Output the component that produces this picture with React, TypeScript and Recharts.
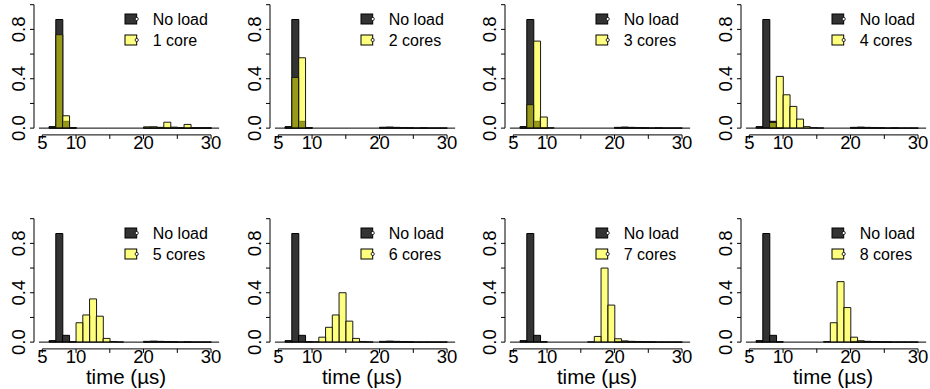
import { ComposedChart, Bar, XAxis, YAxis, ReferenceLine, Legend } from 'recharts';

const FONT = '"Liberation Sans", Arial, Helvetica, sans-serif';

// histogram bins are 1 µs wide, left edges below
const binStarts = [5, 6, 7, 8, 9, 10, 11, 12, 13, 14, 15, 16, 17, 18, 19, 20, 21, 22, 23, 24, 25, 26, 27, 28, 29, 30];

const noLoad = [0, 0.012, 0.88, 0.055, 0.003, 0, 0, 0, 0, 0, 0, 0, 0, 0, 0, 0.006, 0.008, 0.006, 0.005, 0.002, 0.001, 0.001, 0.001, 0.001, 0.001, 0];

const cores1 = [0, 0.005, 0.757, 0.1, 0.003, 0, 0, 0, 0, 0, 0, 0, 0, 0, 0, 0.01, 0.01, 0.003, 0.048, 0.008, 0.002, 0.03, 0.002, 0.001, 0.003, 0];
const cores2 = [0, 0.005, 0.41, 0.57, 0.003, 0, 0, 0, 0, 0, 0, 0, 0, 0, 0, 0.006, 0.006, 0.004, 0.004, 0.002, 0, 0.002, 0, 0, 0, 0];
const cores3 = [0, 0.005, 0.19, 0.705, 0.09, 0.003, 0, 0, 0, 0, 0, 0, 0, 0, 0, 0.005, 0.006, 0.004, 0.004, 0.002, 0, 0.001, 0, 0, 0, 0];
const cores4 = [0, 0, 0, 0.046, 0.419, 0.27, 0.176, 0.073, 0.012, 0.004, 0.002, 0, 0, 0, 0, 0.003, 0.005, 0.004, 0.003, 0.002, 0, 0.001, 0, 0, 0, 0];
const cores5 = [0, 0, 0, 0, 0, 0.157, 0.22, 0.35, 0.21, 0.03, 0.005, 0.002, 0, 0, 0, 0.003, 0.005, 0.004, 0.003, 0.002, 0, 0.001, 0, 0, 0, 0];
const cores6 = [0, 0, 0, 0, 0, 0.003, 0.04, 0.12, 0.22, 0.4, 0.17, 0.03, 0.005, 0.002, 0, 0.003, 0.004, 0.003, 0.002, 0.001, 0, 0, 0, 0, 0, 0];
const cores7 = [0, 0, 0, 0, 0, 0, 0, 0, 0, 0, 0, 0.002, 0.046, 0.6, 0.3, 0.027, 0.008, 0.005, 0.005, 0.002, 0.001, 0, 0, 0, 0, 0];
const cores8 = [0, 0, 0, 0, 0, 0, 0, 0, 0, 0, 0, 0.005, 0.157, 0.49, 0.28, 0.04, 0.01, 0.005, 0.005, 0.002, 0.001, 0, 0, 0, 0, 0];

const loadSeries = [cores1, cores2, cores3, cores4, cores5, cores6, cores7, cores8];
const loadLabels = ['1 core', '2 cores', '3 cores', '4 cores', '5 cores', '6 cores', '7 cores', '8 cores'];

const xTicks = [5, 10, 15, 20, 25, 30];
const xTickLabels = ['5', '10', '', '20', '', '30'];
const yTicks = [0, 0.2, 0.4, 0.6, 0.8, 1];
const yTickLabels = ['0.0', '', '0.4', '', '0.8', ''];

// layout
const PANEL_W = 236;
const PANEL_STEP = 235.6;
const Y_AXIS_W = 34;
const PLOT_W = 192;
const PX_PER_US = 6.75;
const X_MIN = 3.77;
const X_MAX = X_MIN + PLOT_W / PX_PER_US;
const Y_MIN = -0.055;
const Y_MAX = 1.03;
const PLOT_H = 133.9;
const TOP_MARGIN = 1;
const XAXIS_H = 20;
const ROW_TOPS = [0, 214];
const CHART_H = [160, 175];
const TICK_FONT = 18.5;

function XTick({ x, y, payload }: any) {
  const label = xTickLabels[xTicks.indexOf(payload.value)];
  return (
    <text x={x} y={y + 10} textAnchor="middle" fill="#000" fontSize={TICK_FONT} fontFamily={FONT}>
      {label}
    </text>
  );
}

function YTick({ x, y, payload }: any) {
  const label = yTickLabels[yTicks.indexOf(payload.value)];
  const bx = x - 5.2;
  return (
    <text x={bx} y={y} transform={`rotate(-90 ${bx} ${y})`} textAnchor="middle" fill="#000" fontSize={TICK_FONT} fontFamily={FONT}>
      {label}
    </text>
  );
}

function TimeLabel({ viewBox }: any) {
  return (
    <text x={viewBox.x + 92} y={viewBox.y + 35.5} textAnchor="middle" fill="#000" fontSize={20.5} fontFamily={FONT}>
      time (µs)
    </text>
  );
}

function renderLegend({ payload }: any) {
  const items = ['noLoad', 'load']
    .map((k) => (payload || []).find((p: any) => p.dataKey === k))
    .filter(Boolean);
  return (
    <svg width={112} height={45} style={{ display: 'block' }}>
      {items.map((entry: any, i: number) => {
        const top = 6 + i * 21;
        const isLoad = entry.dataKey === 'load';
        return (
          <g key={entry.dataKey}>
            <rect x={5} y={top} width={11.7} height={10} fill={entry.color} fillOpacity={isLoad ? 0.5 : 1} stroke="#000" strokeWidth={1} />
            <circle cx={16.7} cy={top + 5} r={1.6} fill="#fff" stroke="#000" strokeWidth={0.8} />
            <text x={32.7} y={top + 11.2} fill="#000" fontSize={16} fontFamily={FONT}>
              {entry.value}
            </text>
          </g>
        );
      })}
    </svg>
  );
}

function Panel({ idx }: { idx: number }) {
  const row = Math.floor(idx / 4);
  const col = idx % 4;
  const series = loadSeries[idx];
  const data = binStarts.map((b, i) => ({ mid: b + 0.5, noLoad: noLoad[i], load: series[i] }));
  const h = CHART_H[row];
  const bottom = h - TOP_MARGIN - PLOT_H - XAXIS_H;
  return (
    <div style={{ position: 'absolute', left: col * PANEL_STEP, top: ROW_TOPS[row] }}>
      <ComposedChart
        width={PANEL_W}
        height={h}
        data={data}
        margin={{ top: TOP_MARGIN, right: PANEL_W - Y_AXIS_W - PLOT_W, bottom, left: 0 }}
        barCategoryGap={0}
        barGap={0}
      >
        <XAxis
          xAxisId="a"
          type="number"
          dataKey="mid"
          domain={[X_MIN, X_MAX]}
          allowDataOverflow
          ticks={xTicks}
          interval={0}
          tick={<XTick />}
          tickSize={4}
          tickMargin={0}
          tickLine={{ stroke: '#000' }}
          axisLine={false}
          height={XAXIS_H}
          label={row === 1 ? <TimeLabel /> : undefined}
        />
        <XAxis xAxisId="b" type="number" dataKey="mid" domain={[X_MIN, X_MAX]} allowDataOverflow hide />
        <YAxis
          type="number"
          domain={[Y_MIN, Y_MAX]}
          allowDataOverflow
          ticks={yTicks}
          interval={0}
          tick={<YTick />}
          tickSize={4}
          tickMargin={0}
          tickLine={{ stroke: '#000' }}
          axisLine={false}
          width={Y_AXIS_W}
        />
        <ReferenceLine xAxisId="a" segment={[{ x: 4.5, y: 0 }, { x: 31.2, y: 0 }]} stroke="#000" strokeWidth={1} ifOverflow="visible" />
        <Bar xAxisId="a" dataKey="noLoad" name="No load" fill="#333333" stroke="#000" strokeWidth={1} isAnimationActive={false} />
        <Bar xAxisId="b" dataKey="load" name={loadLabels[idx]} fill="#ffff00" fillOpacity={0.5} stroke="#1a1a1a" strokeWidth={1} isAnimationActive={false} />
        <ReferenceLine xAxisId="a" segment={[{ x: 5, y: Y_MIN }, { x: 30, y: Y_MIN }]} stroke="#000" strokeWidth={1} ifOverflow="visible" />
        <ReferenceLine xAxisId="a" segment={[{ x: X_MIN, y: 0 }, { x: X_MIN, y: 1 }]} stroke="#000" strokeWidth={1} ifOverflow="visible" />
        <Legend
          layout="vertical"
          align="center"
          verticalAlign="middle"
          wrapperStyle={{ left: 120, top: 8, width: 112, height: 45 }}
          content={renderLegend}
        />
      </ComposedChart>
    </div>
  );
}

export default function App() {
  return (
    <div style={{ position: 'absolute', left: 0, top: 0, width: 930, height: 389, background: '#fff', overflow: 'hidden', fontFamily: FONT }}>
      {[0, 1, 2, 3, 4, 5, 6, 7].map((i) => (
        <Panel key={i} idx={i} />
      ))}
    </div>
  );
}
